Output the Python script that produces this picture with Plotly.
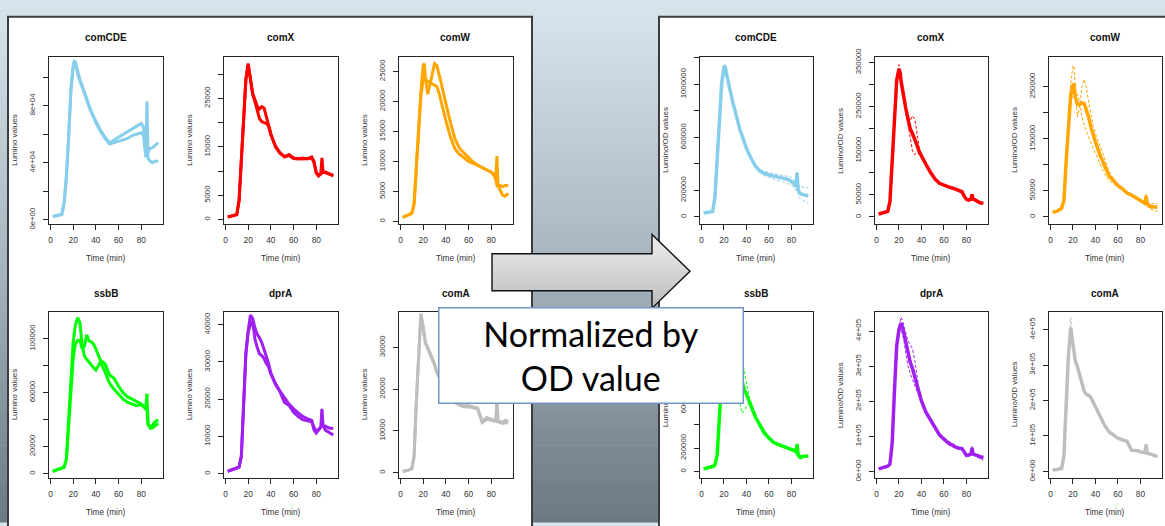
import plotly.graph_objects as go

W, H = 1165, 526

# ---------------- data ----------------
time_min = [2, 6, 10, 12, 14, 16, 18, 20, 21, 22, 24, 26, 28, 30, 32, 34, 36, 38, 40, 44,
            48, 52, 56, 60, 64, 68, 72, 76, 78, 80, 82, 84, 85, 86, 88, 90, 92, 95]

genes = ["comCDE", "comX", "comW", "ssbB", "dprA", "comA"]
gene_colors = ["#87CEEB", "#FF0000", "#FFA500", "#00FF00", "#A020F0", "#BEBEBE"]

# Raw luminescence, two replicates
lum_comCDE_1 = [2300, 3000, 3800, 12000, 30000, 58000, 91000, 108000, 111000, 110500, 103000, 98000, 94000, 89000,
                85000, 80000, 76000, 72000, 69000, 63000, 58000, 54000, 56000, 57500, 59500, 61500, 64000, 66000,
                67000, 67500, 65000, 46000, 44000, 48000, 50000, 50500, 52000, 54000]
lum_comCDE_2 = [2400, 3100, 3700, 11000, 29000, 57000, 90000, 107000, 110000, 110000, 102000, 97000, 93000, 88000,
                84000, 79000, 75000, 71500, 68000, 62000, 57000, 53000, 54000, 55000, 56000, 57000, 59000, 60000,
                61000, 61000, 59000, 44000, 83000, 43000, 41000, 40000, 41000, 41000]
lum_comX_1 = [535, 700, 1000, 4000, 12700, 22000, 29000, 32200, 30700, 28400, 26000, 24700, 23400, 22800, 23300,
              23000, 21500, 19500, 17700, 15000, 13700, 13000, 13200, 12600, 12500, 12700, 12500, 12900, 12000,
              9700, 9000, 9400, 9600, 9800, 9700, 9500, 9400, 9000]
lum_comX_2 = [500, 720, 1050, 3800, 12300, 21800, 28800, 32000, 30500, 28200, 25800, 24300, 22500, 20800, 20200,
              20000, 19800, 19300, 17500, 15200, 13800, 12900, 13400, 12700, 12600, 12500, 12600, 12700, 11800,
              9600, 9100, 9500, 12700, 9700, 9800, 9600, 9300, 9100]
lum_comW_1 = [700, 1000, 1400, 3000, 9500, 16500, 21400, 26000, 26300, 24000, 21200, 22800, 24600, 26300, 26000,
              24700, 23000, 21300, 19500, 16500, 13800, 12200, 11400, 10600, 9900, 9400, 9000, 8700, 8500, 8200,
              7900, 7300, 10900, 6000, 6000, 5800, 6000, 6000]
lum_comW_2 = [650, 950, 1350, 2800, 9000, 16000, 21000, 23500, 23800, 23600, 23400, 23200, 23000, 22800, 22500,
              21400, 19800, 18300, 16800, 14100, 12100, 11200, 10600, 10000, 9700, 9300, 8900, 8600, 8400, 8200,
              7800, 7000, 6000, 5900, 5200, 4400, 4200, 4700]
lum_ssbB_1 = [1700, 3100, 4000, 4800, 10800, 39600, 70700, 97000, 104000, 110000, 115600, 111500, 94700, 87000,
              84700, 82300, 80300, 78400, 76700, 82700, 75500, 67100, 62400, 58800, 55200, 52800, 51600, 50400,
              51000, 51600, 49600, 48000, 59200, 37200, 33600, 34000, 35300, 37200]
lum_ssbB_2 = [1800, 3000, 4100, 4700, 10000, 36000, 65000, 85000, 91000, 96000, 98800, 98800, 92300, 94700,
              102900, 98300, 97600, 96000, 92300, 84000, 81500, 73100, 70700, 64700, 60000, 56800, 55200, 53500,
              52500, 51000, 50000, 48500, 47000, 36000, 34500, 36000, 38400, 40000]
lum_dprA_1 = [600, 1000, 1500, 1700, 4800, 19600, 32600, 38300, 41000, 42600, 41700, 39100, 37400, 36500, 35200,
              33500, 31700, 29600, 27000, 24300, 22200, 20400, 18700, 17400, 16300, 15400, 14800, 14300, 11700,
              10900, 11700, 12600, 17400, 13000, 11700, 11300, 10900, 10400]
lum_dprA_2 = [650, 1050, 1450, 1800, 4500, 19000, 32000, 38000, 39500, 40000, 40900, 36100, 33900, 32200, 31700,
              30900, 29600, 28700, 26800, 24000, 22000, 19100, 18300, 16500, 15400, 14500, 14200, 13900, 12500,
              11500, 11800, 12500, 12900, 12800, 12800, 12400, 12200, 12200]
lum_comA_1 = [300, 500, 900, 4000, 17200, 29600, 38100, 35000, 33000, 31200, 30000, 28800, 27700, 26100, 24200,
              23000, 22000, 21000, 20000, 18500, 17000, 16500, 16000, 16000, 15800, 15500, 12300, 13200, 13000,
              12800, 12700, 12600, 18000, 12500, 12300, 12000, 12500, 12300]
lum_comA_2 = [350, 550, 950, 3800, 16800, 29200, 37800, 34600, 32700, 31000, 29700, 28500, 27300, 25800, 24000,
              22800, 21800, 20700, 19800, 18200, 16800, 16200, 15800, 15700, 15600, 15200, 12000, 12800, 12700,
              12500, 12400, 12300, 12400, 12200, 12000, 11800, 12000, 11900]

# Luminescence normalised by OD: mean and two replicates
od_comCDE_mean = [29000, 34000, 41000, 150000, 450000, 760000, 1010000, 1127000, 1139000, 1090000, 1005000, 932000,
                  859000, 798000, 724000, 663000, 615000, 566000, 517000, 444000, 383000, 346000, 327000, 317000,
                  310000, 302000, 298000, 285000, 278000, 268000, 254000, 229000, 334000, 200000, 176000, 168000,
                  163000, 159000]
od_comCDE_1 = [31000, 35000, 42000, 155000, 460000, 770000, 1020000, 1140000, 1150000, 1100000, 1010000, 940000,
               865000, 805000, 730000, 668000, 620000, 570000, 522000, 450000, 388000, 352000, 346000, 334000,
               328000, 322000, 317000, 310000, 304000, 298000, 285000, 255000, 330000, 237000, 229000, 224000,
               222000, 220000]
od_comCDE_2 = [27000, 33000, 40000, 145000, 440000, 750000, 1000000, 1115000, 1128000, 1080000, 1000000, 925000,
               853000, 791000, 718000, 658000, 610000, 562000, 512000, 438000, 378000, 340000, 310000, 298000,
               288000, 278000, 266000, 252000, 246000, 238000, 225000, 200000, 338000, 163000, 139000, 127000,
               115000, 102000]
od_comX_mean = [6600, 8800, 12500, 34500, 126000, 229000, 310000, 335000, 328000, 306000, 273000, 247000, 222000,
                200000, 189000, 178000, 163000, 148000, 137000, 119000, 101000, 86000, 76000, 71000, 68000, 65000,
                62000, 57000, 47000, 40000, 38000, 40000, 51000, 40000, 38000, 34500, 32000, 31000]
od_comX_1 = [6800, 9000, 12800, 35000, 128000, 232000, 318000, 345000, 336000, 312000, 278000, 252000, 230000,
             218000, 229000, 222000, 192000, 156000, 140000, 121000, 103000, 88000, 78000, 72000, 69000, 66000,
             63000, 58000, 48000, 41000, 39000, 41000, 50000, 41000, 39000, 35000, 33000, 32000]
od_comX_2 = [6400, 8600, 12200, 34000, 124000, 226000, 302000, 325000, 320000, 300000, 268000, 242000, 214000,
             182000, 150000, 141000, 145000, 142000, 134000, 117000, 99000, 84000, 74000, 70000, 67000, 64000,
             61000, 56000, 46000, 39000, 37000, 39000, 52000, 39000, 37000, 34000, 31000, 30000]
od_comW_mean = [8700, 11000, 16800, 32000, 107000, 182000, 234000, 253000, 255000, 231000, 216000, 216000, 219000,
                218000, 206000, 191000, 172000, 157000, 144000, 119000, 98000, 79000, 70000, 60000, 54000, 46000,
                42000, 37000, 35000, 32000, 29000, 26000, 40000, 26000, 21000, 19000, 19000, 19000]
od_comW_1 = [9000, 11500, 17500, 34000, 112000, 190000, 256000, 290000, 290000, 250000, 191000, 213000, 250000,
             264000, 250000, 219000, 194000, 175000, 160000, 138000, 113000, 88000, 73000, 62000, 55000, 47000,
             43000, 38000, 36000, 33000, 30000, 27000, 44000, 28000, 26000, 25000, 26000, 26000]
od_comW_2 = [8400, 10500, 16000, 30000, 102000, 175000, 215000, 245000, 250000, 225000, 235000, 220000, 192000,
             175000, 163000, 152000, 142000, 132000, 122000, 100000, 83000, 70000, 64000, 57000, 52000, 45000,
             41000, 36000, 34000, 31000, 28000, 25000, 36000, 22000, 16000, 13000, 11000, 11000]
od_ssbB_mean = [22000, 31000, 42000, 56000, 140000, 470000, 800000, 1100000, 1160000, 1190000, 1200000, 1150000,
                1050000, 990000, 930000, 860000, 780000, 703000, 661000, 564000, 467000, 397000, 328000, 286000,
                250000, 231000, 217000, 203000, 198000, 194000, 181000, 167000, 231000, 139000, 119000, 128000,
                133000, 133000]
od_ssbB_1 = [23000, 32000, 43000, 58000, 150000, 500000, 850000, 1150000, 1230000, 1280000, 1310000, 1250000,
             1000000, 850000, 720000, 600000, 500000, 520000, 560000, 600000, 480000, 380000, 315000, 275000,
             240000, 222000, 210000, 196000, 200000, 192000, 178000, 165000, 240000, 130000, 110000, 120000,
             128000, 130000]
od_ssbB_2 = [21000, 30000, 41000, 54000, 130000, 440000, 750000, 1050000, 1090000, 1100000, 1090000, 1050000,
             1000000, 1010000, 1050000, 980000, 920000, 880000, 760000, 560000, 470000, 412000, 345000, 298000,
             262000, 240000, 225000, 210000, 200000, 196000, 184000, 170000, 222000, 148000, 128000, 136000,
             138000, 136000]
od_dprA_mean = [7400, 11000, 14800, 21000, 81000, 229000, 358000, 405000, 414000, 423000, 400000, 368000, 335000,
                312000, 294000, 271000, 243000, 220000, 201000, 169000, 146000, 123000, 104000, 92000, 81000,
                74000, 67000, 65000, 54000, 46000, 47000, 49000, 67000, 49000, 47000, 44000, 42000, 38000]
od_dprA_1 = [7600, 11500, 15500, 22000, 84000, 235000, 365000, 415000, 430000, 440000, 420000, 395000, 372000,
             362000, 350000, 318000, 272000, 232000, 208000, 176000, 152000, 128000, 109000, 96000, 86000, 79000,
             71000, 68000, 57000, 49000, 50000, 52000, 63000, 52000, 50000, 48000, 46000, 44000]
od_dprA_2 = [7200, 10500, 14100, 20000, 78000, 223000, 350000, 395000, 400000, 405000, 380000, 335000, 300000,
             280000, 262000, 245000, 225000, 210000, 195000, 162000, 140000, 118000, 100000, 88000, 76000, 69000,
             63000, 62000, 51000, 43000, 44000, 46000, 71000, 46000, 44000, 40000, 37000, 32000]
od_comA_mean = [4600, 5500, 9000, 44000, 190000, 327000, 405000, 363000, 336000, 313000, 295000, 272000, 249000,
                226000, 217000, 215000, 208000, 195000, 181000, 153000, 131000, 112000, 103000, 94000, 89000,
                85000, 60000, 59000, 58000, 55000, 53000, 53000, 76000, 51000, 50000, 47000, 44000, 42000]
od_comA_1 = [4800, 5700, 9400, 46000, 196000, 338000, 435000, 372000, 342000, 318000, 300000, 276000, 252000,
             229000, 220000, 218000, 211000, 198000, 184000, 155000, 133000, 114000, 105000, 96000, 91000, 86000,
             61000, 60000, 59000, 56000, 54000, 54000, 78000, 52000, 51000, 48000, 45000, 43000]
od_comA_2 = [4400, 5300, 8600, 42000, 184000, 316000, 390000, 354000, 330000, 308000, 290000, 268000, 246000,
             223000, 214000, 212000, 205000, 192000, 178000, 151000, 129000, 110000, 101000, 92000, 87000, 84000,
             59000, 58000, 57000, 54000, 52000, 52000, 74000, 50000, 49000, 46000, 43000, 41000]

lum_reps = {"comCDE": (lum_comCDE_1, lum_comCDE_2), "comX": (lum_comX_1, lum_comX_2),
            "comW": (lum_comW_1, lum_comW_2), "ssbB": (lum_ssbB_1, lum_ssbB_2),
            "dprA": (lum_dprA_1, lum_dprA_2), "comA": (lum_comA_1, lum_comA_2)}
od_sets = {"comCDE": (od_comCDE_mean, od_comCDE_1, od_comCDE_2), "comX": (od_comX_mean, od_comX_1, od_comX_2),
           "comW": (od_comW_mean, od_comW_1, od_comW_2), "ssbB": (od_ssbB_mean, od_ssbB_1, od_ssbB_2),
           "dprA": (od_dprA_mean, od_dprA_1, od_dprA_2), "comA": (od_comA_mean, od_comA_1, od_comA_2)}

for name, arrs in list(lum_reps.items()) + list(od_sets.items()):
    for a in arrs:
        if len(a) != len(time_min):
            raise ValueError(f"{name}: length {len(a)}")

x_ticks = [0, 20, 40, 60, 80]
lum_ytick_vals = {"comCDE": [0, 20000, 40000, 60000, 80000, 100000],
                  "comX": [0, 5000, 10000, 15000, 20000, 25000, 30000],
                  "comW": [0, 5000, 10000, 15000, 20000, 25000],
                  "ssbB": [0, 20000, 40000, 60000, 80000, 100000],
                  "dprA": [0, 10000, 20000, 30000, 40000],
                  "comA": [0, 10000, 20000, 30000]}
lum_ytick_text = {"comCDE": ["0e+00", "", "4e+04", "", "8e+04", ""],
                  "comX": ["0", "5000", "", "15000", "", "25000", ""],
                  "comW": ["0", "5000", "10000", "15000", "20000", "25000"],
                  "ssbB": ["0", "20000", "", "60000", "", "100000"],
                  "dprA": ["0", "10000", "20000", "30000", "40000"],
                  "comA": ["0", "10000", "20000", "30000"]}
od_ytick_vals = {"comCDE": [0, 200000, 400000, 600000, 800000, 1000000, 1200000],
                 "comX": [0, 50000, 100000, 150000, 200000, 250000, 300000, 350000],
                 "comW": [0, 50000, 100000, 150000, 200000, 250000],
                 "ssbB": [0, 200000, 400000, 600000, 800000, 1000000, 1200000],
                 "dprA": [0, 100000, 200000, 300000, 400000],
                 "comA": [0, 100000, 200000, 300000, 400000]}
od_ytick_text = {"comCDE": ["0", "200000", "", "600000", "", "1000000", ""],
                 "comX": ["0", "50000", "", "150000", "", "250000", "", "350000"],
                 "comW": ["0", "50000", "", "150000", "", "250000"],
                 "ssbB": ["0", "200000", "", "600000", "", "1000000", ""],
                 "dprA": ["0e+00", "1e+05", "2e+05", "3e+05", "4e+05"],
                 "comA": ["0e+00", "1e+05", "2e+05", "3e+05", "4e+05"]}

# ---------------- geometry (pixels) ----------------
left_cols = [(48.5, 162.5), (223.5, 337.5), (398.5, 512.5)]
right_cols = [(699.5, 812.5), (874.5, 987.5), (1048.5, 1161.5)]
rows = [(49.5, 221.0), (312.0, 482.3)]
title_y = [29.3, 292.6]
xlabel_y = [256.0, 517.7]
XRANGE = [-1.72, 98.72]
lum_yrange = {"comCDE": [-2721, 113946], "comX": [-862, 33520], "comW": [-373, 27396],
              "ssbB": [-2878, 119640], "dprA": [-1044, 43386], "comA": [-1163, 38442]}
od_yrange = {"comCDE": [-51226, 1205269], "comX": [-15412, 362175], "comW": [-13060, 306903],
             "ssbB": [-52500, 1366667], "dprA": [-17452, 454294], "comA": [-17260, 449315]}

FONT = "Liberation Sans, Arial, Helvetica, sans-serif"
INK = "#262626"


def px(x):
    return x / W


def py(y):
    return 1 - y / H


fig = go.Figure()
layout = {}
annotations = []
shapes = []

# slide background gradient
stops = [(0, (0xD8, 0xE4, 0xEC)), (250, (0xAA, 0xB7, 0xC0)), (H, (0x6B, 0x79, 0x83))]


def bg_at(y):
    for (y0, c0), (y1, c1) in zip(stops[:-1], stops[1:]):
        if y0 <= y <= y1:
            f = (y - y0) / (y1 - y0)
            return "rgb(%d,%d,%d)" % tuple(round(a + (b - a) * f) for a, b in zip(c0, c1))
    return "rgb(%d,%d,%d)" % stops[-1][1]


step = 6
for y in range(0, H, step):
    shapes.append(dict(type="rect", xref="paper", yref="paper", x0=0, x1=1, y0=py(y + step + 0.5), y1=py(y),
                       fillcolor=bg_at(y + step / 2), line=dict(width=0), layer="below"))

# white panels
for (x0, x1) in [(8, 532), (659, 1180)]:
    shapes.append(dict(type="rect", xref="paper", yref="paper", x0=px(x0), x1=px(x1), y0=py(540), y1=py(8),
                       fillcolor="white", line=dict(color="#3c3c3c", width=2), layer="below"))

k = 0
for side in ["lum", "od"]:
    cols = left_cols if side == "lum" else right_cols
    for gi, gene in enumerate(genes):
        k += 1
        r, c = gi // 3, gi % 3
        (bx0, bx1), (by0, by1) = cols[c], rows[r]
        color = gene_colors[gi]
        xa = "x" if k == 1 else f"x{k}"
        ya = "y" if k == 1 else f"y{k}"
        if side == "lum":
            for rep in lum_reps[gene]:
                fig.add_trace(go.Scatter(x=time_min, y=rep, mode="lines", xaxis=xa, yaxis=ya,
                                         line=dict(color=color, width=3), hoverinfo="skip", showlegend=False))
            yr, tv, tt, ylab = lum_yrange[gene], lum_ytick_vals[gene], lum_ytick_text[gene], "Lumino values"
        else:
            mean, r1, r2 = od_sets[gene]
            for rep in (r1, r2):
                fig.add_trace(go.Scatter(x=time_min, y=rep, mode="lines", xaxis=xa, yaxis=ya,
                                         line=dict(color=color, width=1, dash="3px,2px"),
                                         hoverinfo="skip", showlegend=False))
            fig.add_trace(go.Scatter(x=time_min, y=mean, mode="lines", xaxis=xa, yaxis=ya,
                                     line=dict(color=color, width=3.5), hoverinfo="skip", showlegend=False))
            yr, tv, tt, ylab = od_yrange[gene], od_ytick_vals[gene], od_ytick_text[gene], "Lumino/OD values"

        common = dict(showline=True, mirror=True, linecolor=INK, linewidth=1, ticks="outside", ticklen=5,
                      tickwidth=1, tickcolor=INK, showgrid=False, zeroline=False, fixedrange=True)
        layout["xaxis" if k == 1 else f"xaxis{k}"] = dict(
            domain=[px(bx0), px(bx1)], range=XRANGE, anchor=ya, tickvals=x_ticks,
            ticktext=[str(v) for v in x_ticks], ticklabelstandoff=3,
            tickfont=dict(family=FONT, size=8.3, color="#333333"), **common)
        layout["yaxis" if k == 1 else f"yaxis{k}"] = dict(
            domain=[py(by1), py(by0)], range=yr, anchor=xa, tickvals=tv, ticktext=tt, tickangle=-90,
            ticklabelstandoff=4, tickfont=dict(family=FONT, size=7.8, color="#333333"), **common)

        cx = (bx0 + bx1) / 2
        annotations.append(dict(x=px(cx), y=py(title_y[r]), xref="paper", yref="paper", text=f"<b>{gene}</b>",
                                showarrow=False, xanchor="center", yanchor="middle",
                                font=dict(family=FONT, size=10, color="#111111")))
        annotations.append(dict(x=px(cx), y=py(xlabel_y[r]), xref="paper", yref="paper", text="Time (min)",
                                showarrow=False, xanchor="center", yanchor="middle",
                                font=dict(family=FONT, size=8.3, color="#333333")))
        annotations.append(dict(x=px(bx0 - 34), y=py((by0 + by1) / 2), xref="paper", yref="paper", text=ylab,
                                textangle=-90, showarrow=False, xanchor="center", yanchor="middle",
                                font=dict(family=FONT, size=8, color="#333333")))

# block arrow with vertical gradient (decoration)
ax0, sx1, tipx = 492, 652, 690
head_top, shaft_top, mid, shaft_bot, head_bot = 232, 252, 270, 290, 308


def right_edge(y):
    return tipx - abs(y - mid) * (tipx - sx1) / (mid - head_top)


def path(pts):
    return "M " + " L ".join(f"{px(x):.5f},{py(y):.5f}" for x, y in pts) + " Z"


bands = []
for seg0, seg1, left in [(head_top, shaft_top, sx1), (shaft_top, shaft_bot, ax0), (shaft_bot, head_bot, sx1)]:
    n = max(1, round((seg1 - seg0) / 4))
    for i in range(n):
        bands.append((seg0 + (seg1 - seg0) * i / n, seg0 + (seg1 - seg0) * (i + 1) / n, left))
c_top, c_bot = (0xEE, 0xEE, 0xEE), (0xBC, 0xBC, 0xBC)
for ya0, ya1, left in bands:
    f = ((ya0 + ya1) / 2 - head_top) / (head_bot - head_top)
    col = "rgb(%d,%d,%d)" % tuple(round(a + (b - a) * f) for a, b in zip(c_top, c_bot))
    pts = [(left, ya0 - 0.3), (right_edge(ya0 - 0.3), ya0 - 0.3)]
    if ya0 < mid < ya1:
        pts.append((tipx, mid))
    pts += [(right_edge(ya1 + 0.3), ya1 + 0.3), (left, ya1 + 0.3)]
    shapes.append(dict(type="path", xref="paper", yref="paper", path=path(pts), fillcolor=col,
                       line=dict(width=0), layer="above"))
outline = [(ax0, shaft_top), (sx1, shaft_top), (sx1, head_top), (tipx, mid), (sx1, head_bot), (sx1, shaft_bot),
           (ax0, shaft_bot)]
shapes.append(dict(type="path", xref="paper", yref="paper", path=path(outline), fillcolor="rgba(0,0,0,0)",
                   line=dict(color="#111111", width=1.4), layer="above"))

# text box (drawn last, covers what lies beneath)
annotations.append(dict(x=px(591), y=py(356.5), xref="paper", yref="paper", text="Normalized by<br>OD value",
                        showarrow=False, xanchor="center", yanchor="middle", align="center", valign="middle",
                        width=303, height=94, bgcolor="white", bordercolor="#7396C8", borderwidth=1.5,
                        borderpad=0, font=dict(family="Lato, Open Sans, sans-serif", size=34, color="#000000")))

fig.update_layout(width=W, height=H, margin=dict(l=0, r=0, t=0, b=0), paper_bgcolor="#D8E4EC",
                  plot_bgcolor="rgba(0,0,0,0)", showlegend=False, shapes=shapes, annotations=annotations,
                  **layout)
fig.write_html("out.html", config={"displayModeBar": False, "staticPlot": True},
               post_script="document.body.style.margin='0';document.body.style.overflow='hidden';")
